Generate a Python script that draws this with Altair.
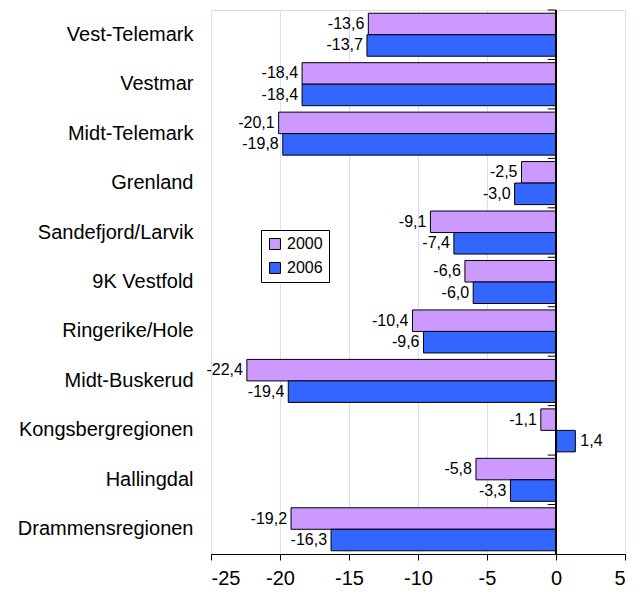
import altair as alt
import pandas as pd

categories = ["Vest-Telemark", "Vestmar", "Midt-Telemark", "Grenland", "Sandefjord/Larvik",
              "9K Vestfold", "Ringerike/Hole", "Midt-Buskerud", "Kongsbergregionen",
              "Hallingdal", "Drammensregionen"]
v2000 = [-13.6, -18.4, -20.1, -2.5, -9.1, -6.6, -10.4, -22.4, -1.1, -5.8, -19.2]
v2006 = [-13.7, -18.4, -19.8, -3.0, -7.4, -6.0, -9.6, -19.4, 1.4, -3.3, -16.3]
years = ["2000", "2006"]
colors = ["#CC99FF", "#3366FF"]
x_ticks = [-25, -20, -15, -10, -5, 0, 5]

rows = []
for c, a, b in zip(categories, v2000, v2006):
    rows.append({"cat": c, "year": "2000", "v": a, "lab": f"{a:.1f}".replace(".", ",")})
    rows.append({"cat": c, "year": "2006", "v": b, "lab": f"{b:.1f}".replace(".", ",")})
df = pd.DataFrame(rows)

FONT = "Liberation Sans"

x_scale = alt.Scale(domain=[-25, 5], nice=False, zero=False)
y_enc = alt.Y("cat:N", sort=categories, scale=alt.Scale(paddingInner=0, paddingOuter=0),
              axis=alt.Axis(title=None, domain=False, ticks=False, labelPadding=18,
                            labelFontSize=20, labelColor="black", labelFont=FONT, grid=False))
yoff = alt.YOffset("year:N", sort=years, scale=alt.Scale(paddingOuter=0.15, paddingInner=0))

base = alt.Chart(df)

bars = base.mark_bar(stroke="black", strokeWidth=1).encode(
    x=alt.X("v:Q", scale=x_scale,
            axis=alt.Axis(title=None, values=x_ticks, grid=True, gridColor="#DCDCFA",
                          domainColor="black", tickColor="black", tickSize=6,
                          labelFontSize=20, labelColor="black", labelFont=FONT,
                          labelPadding=8, labelExpr="'' + datum.value")),
    x2=alt.datum(0),
    y=y_enc,
    yOffset=yoff,
    color=alt.Color("year:N", sort=years,
                    scale=alt.Scale(domain=years, range=colors),
                    legend=alt.Legend(title=None, orient="none", legendX=50, legendY=220,
                                      strokeColor="black", fillColor="white", padding=6,
                                      symbolType="square", symbolSize=120,
                                      symbolStrokeColor="black", symbolStrokeWidth=1,
                                      labelFontSize=16, labelFont=FONT, labelColor="black",
                                      rowPadding=8)),
)

neg_text = base.transform_filter("datum.v < 0").mark_text(
    align="right", baseline="middle", dx=-4, fontSize=16, font=FONT, color="black"
).encode(x="v:Q", y=alt.Y("cat:N", sort=categories), yOffset=yoff, text="lab:N")

pos_text = base.transform_filter("datum.v >= 0").mark_text(
    align="left", baseline="middle", dx=5, fontSize=16, font=FONT, color="black"
).encode(x="v:Q", y=alt.Y("cat:N", sort=categories), yOffset=yoff, text="lab:N")

zero_df = pd.DataFrame({"cat": categories})
zero_line = alt.Chart(zero_df).mark_rule(color="black", strokeWidth=1.5).encode(
    x=alt.datum(0))
cat_ticks = alt.Chart(zero_df).mark_rule(color="black", strokeWidth=1).encode(
    x=alt.datum(-0.6), x2=alt.datum(0),
    y=alt.Y("cat:N", sort=categories, bandPosition=0))

chart = alt.layer(bars, zero_line, cat_ticks, neg_text, pos_text).properties(
    width=414, height=544,
    autosize=alt.AutoSizeParams(type="none"),
    padding={"left": 203, "top": 2, "right": 10, "bottom": 40},
).configure_view(stroke="#A0A0A0", strokeWidth=1).configure(font=FONT)

chart.save("out.html", embed_options={"renderer": "svg", "actions": False})
